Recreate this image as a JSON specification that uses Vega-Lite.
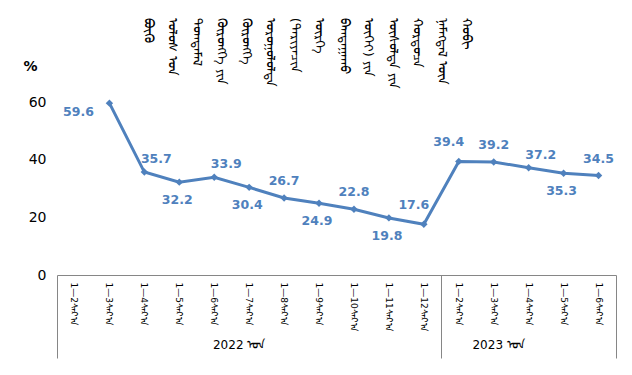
{
  "$schema": "https://vega.github.io/schema/vega-lite/v6.json",
  "width": 559,
  "height": 173,
  "autosize": {"type": "none"},
  "padding": {"left": 57, "top": 102, "right": 16, "bottom": 100},
  "background": "white",
  "config": {"view": {"stroke": null}, "font": "DejaVu Sans"},
  "title": {
    "text": ["ᠬᠤᠪᠢ", "ᠨᠡᠮᠡᠭᠳᠡᠯ ᠦᠨ", "ᠬᠤᠷᠳᠤᠴᠠ", "ᠥᠰᠦᠯᠲᠡ ᠶᠢᠨ", "ᠦᠭᠡᠢ) ᠶᠢᠨ", "ᠪᠠᠭᠲᠠᠭᠠᠬᠤ", "ᠥᠷᠭᠡ", "(ᠲᠠᠷᠢᠶᠠᠴᠢᠨ", "ᠣᠷᠣᠭᠤᠯᠤᠯᠲᠠ", "ᠬᠥᠷᠥᠩᠭᠡ", "ᠬᠥᠷᠥᠩᠭᠡ ᠶᠢᠨ", "ᠲᠣᠭᠲᠠᠮᠠᠯ", "ᠤᠯᠤᠰ ᠤᠨ", "ᠪᠦᠬᠦ"],
    "angle": 90,
    "anchor": "start",
    "frame": "group",
    "orient": "top",
    "align": "left",
    "baseline": "middle",
    "fontSize": 13,
    "fontWeight": "normal",
    "color": "#000000",
    "lineHeight": 24.5,
    "offset": 0,
    "dx": 30,
    "dy": -409
  },
  "data": {
    "values": [
      {"period": "2022|1—3", "growth": 59.6, "pos": "left"},
      {"period": "2022|1—4", "growth": 35.7, "pos": "aboveright"},
      {"period": "2022|1—5", "growth": 32.2, "pos": "below"},
      {"period": "2022|1—6", "growth": 33.9, "pos": "aboveright"},
      {"period": "2022|1—7", "growth": 30.4, "pos": "below"},
      {"period": "2022|1—8", "growth": 26.7, "pos": "above"},
      {"period": "2022|1—9", "growth": 24.9, "pos": "below"},
      {"period": "2022|1—10", "growth": 22.8, "pos": "above"},
      {"period": "2022|1—11", "growth": 19.8, "pos": "below"},
      {"period": "2022|1—12", "growth": 17.6, "pos": "aboveleft"},
      {"period": "2023|1—2", "growth": 39.4, "pos": "aboveleft"},
      {"period": "2023|1—3", "growth": 39.2, "pos": "above"},
      {"period": "2023|1—4", "growth": 37.2, "pos": "aboveright"},
      {"period": "2023|1—5", "growth": 35.3, "pos": "below"},
      {"period": "2023|1—6", "growth": 34.5, "pos": "above"}
    ]
  },
  "layer": [
    {
      "encoding": {
        "x": {
          "field": "period",
          "type": "ordinal",
          "sort": null,
          "scale": {
            "type": "band",
            "paddingInner": 0,
            "paddingOuter": 0,
            "domain": ["2022|1—2", "2022|1—3", "2022|1—4", "2022|1—5", "2022|1—6", "2022|1—7", "2022|1—8", "2022|1—9", "2022|1—10", "2022|1—11", "2022|1—12", "2023|1—2", "2023|1—3", "2023|1—4", "2023|1—5", "2023|1—6"]
          },
          "axis": {
            "orient": "bottom",
            "title": null,
            "labelExpr": "split(datum.label, '|')[1] + 'ᠰᠠᠷ᠎ᠠ'",
            "labelAngle": 90,
            "labelAlign": "left",
            "labelBaseline": "middle",
            "labelFontSize": 9,
            "labelColor": "#000000",
            "labelPadding": 7,
            "labelOverlap": false,
            "ticks": false,
            "grid": false,
            "domain": true,
            "domainColor": "#868686",
            "domainWidth": 1
          }
        },
        "y": {
          "field": "growth",
          "type": "quantitative",
          "scale": {"domain": [0, 60], "nice": false},
          "axis": {
            "values": [0, 20, 40, 60],
            "domain": false,
            "ticks": false,
            "grid": false,
            "labelFontSize": 14,
            "labelColor": "#000000",
            "labelPadding": 11,
            "title": "%",
            "titleAngle": 0,
            "titleX": -27,
            "titleY": -36,
            "titleFontSize": 14,
            "titleFontWeight": "bold",
            "titleColor": "#000000",
            "titleAlign": "center",
            "titleBaseline": "middle"
          }
        }
      },
      "layer": [
        {"mark": {"type": "line", "color": "#4F81BD", "strokeWidth": 3}},
        {"mark": {"type": "point", "shape": "diamond", "filled": true, "size": 55, "color": "#4F81BD", "opacity": 1}},
        {
          "transform": [{"filter": "datum.pos == 'left'"}],
          "mark": {"type": "text", "dx": -31, "dy": 9, "fontSize": 12.5, "fontWeight": "bold", "color": "#4F81BD"},
          "encoding": {"text": {"field": "growth", "type": "quantitative", "format": ".1f"}}
        },
        {
          "transform": [{"filter": "datum.pos == 'above'"}],
          "mark": {"type": "text", "dx": 0, "dy": -17, "fontSize": 12.5, "fontWeight": "bold", "color": "#4F81BD"},
          "encoding": {"text": {"field": "growth", "type": "quantitative", "format": ".1f"}}
        },
        {
          "transform": [{"filter": "datum.pos == 'aboveright'"}],
          "mark": {"type": "text", "dx": 12, "dy": -13, "fontSize": 12.5, "fontWeight": "bold", "color": "#4F81BD"},
          "encoding": {"text": {"field": "growth", "type": "quantitative", "format": ".1f"}}
        },
        {
          "transform": [{"filter": "datum.pos == 'aboveleft'"}],
          "mark": {"type": "text", "dx": -10, "dy": -19, "fontSize": 12.5, "fontWeight": "bold", "color": "#4F81BD"},
          "encoding": {"text": {"field": "growth", "type": "quantitative", "format": ".1f"}}
        },
        {
          "transform": [{"filter": "datum.pos == 'below'"}],
          "mark": {"type": "text", "dx": -2, "dy": 18, "fontSize": 12.5, "fontWeight": "bold", "color": "#4F81BD"},
          "encoding": {"text": {"field": "growth", "type": "quantitative", "format": ".1f"}}
        }
      ]
    },
    {
      "mark": {"type": "point", "opacity": 0},
      "encoding": {
        "x": {
          "field": "period",
          "type": "ordinal",
          "sort": null,
          "axis": {
            "orient": "bottom",
            "title": null,
            "values": ["2022|1—2", "2023|1—2"],
            "bandPosition": 0,
            "labels": false,
            "domain": false,
            "grid": false,
            "ticks": true,
            "tickSize": 83,
            "tickColor": "#868686",
            "tickWidth": 1
          }
        }
      }
    },
    {
      "mark": {"type": "point", "opacity": 0},
      "encoding": {
        "x": {
          "field": "period",
          "type": "ordinal",
          "sort": null,
          "axis": {
            "orient": "bottom",
            "title": null,
            "values": ["2023|1—6"],
            "bandPosition": 1,
            "labels": false,
            "domain": false,
            "grid": false,
            "ticks": true,
            "tickSize": 83,
            "tickColor": "#868686",
            "tickWidth": 1
          }
        }
      }
    },
    {
      "mark": {"type": "point", "opacity": 0},
      "encoding": {
        "x": {
          "field": "period",
          "type": "ordinal",
          "sort": null,
          "axis": {
            "orient": "bottom",
            "title": null,
            "values": ["2022|1—7", "2023|1—4"],
            "labelExpr": "split(datum.label, '|')[0] + ' ᠣᠨ'",
            "labelAngle": 0,
            "labelAlign": "center",
            "labelBaseline": "top",
            "labelFontSize": 12,
            "labelColor": "#000000",
            "labelPadding": 64,
            "labelOffset": {"condition": {"test": "datum.value == '2023|1—4'", "value": -30}, "value": -10},
            "domain": false,
            "grid": false,
            "ticks": false
          }
        }
      }
    }
  ],
  "resolve": {"axis": {"x": "independent"}}
}
